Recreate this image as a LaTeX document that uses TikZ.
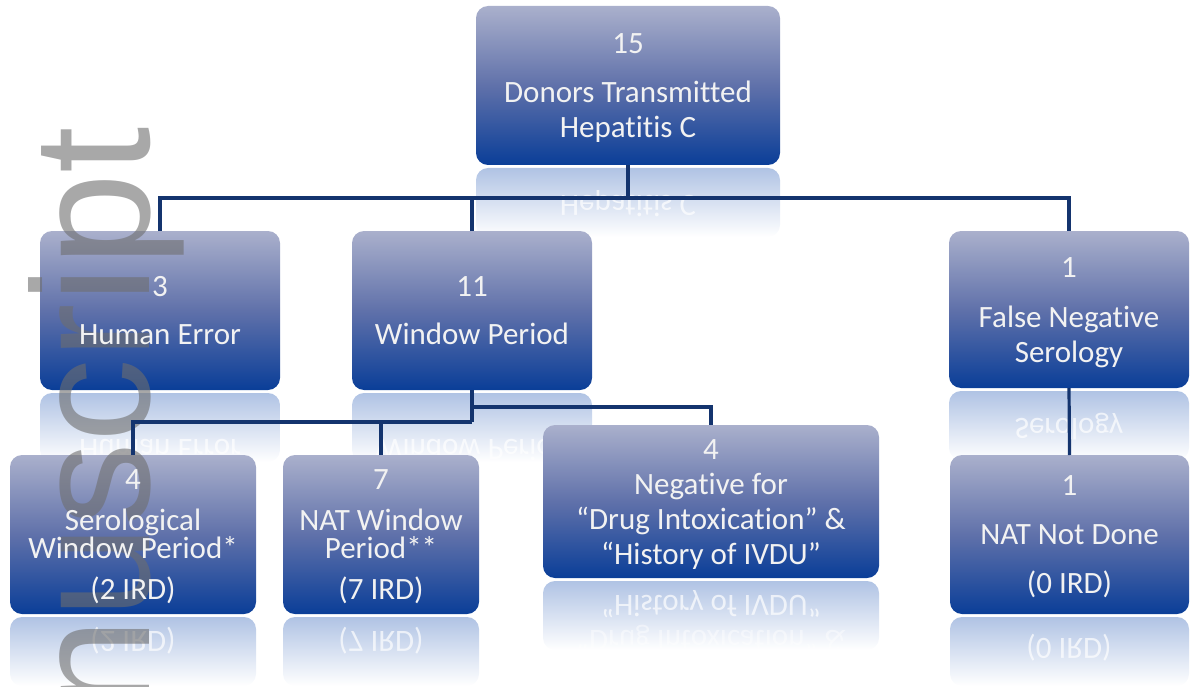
\documentclass[tikz,border=0pt]{standalone}
\usepackage{fontspec}
\setmainfont[Ligatures={NoCommon}]{Carlito}
\newfontfamily\wmfont{Liberation Sans}
\definecolor{boxtop}{RGB}{170,176,204}
\definecolor{boxmid}{RGB}{96,113,170}
\definecolor{boxbot}{RGB}{10,62,152}
\definecolor{refl}{RGB}{176,195,228}
\definecolor{conncol}{RGB}{20,52,110}
\definecolor{wmgray}{RGB}{110,110,110}
\definecolor{txt}{RGB}{242,242,242}
\pgfdeclarelayer{back}
\pgfdeclarelayer{wmark}
\pgfsetlayers{back,wmark,main}
\newcommand\bst{\rule[-7pt]{0pt}{34pt}}
\begin{document}
\begin{tikzpicture}[x=1pt,y=-1pt,
  cbox/.style={draw=none, anchor=north west, inner sep=0pt, outer sep=0pt, align=center, text=txt, font=\fontsize{31}{35}\selectfont},
  conn/.style={draw=conncol, line width=3.2pt},
  rtext/.style={text=white, anchor=base, inner sep=0pt, font=\fontsize{31}{35}\selectfont},
  wmstyle/.style={text=wmgray, opacity=0.6, inner sep=0pt, font=\wmfont\fontsize{167}{167}\selectfont},
  boxshade/.style={rounded corners=12pt, top color=boxtop, bottom color=boxbot, middle color=boxmid},
  reflshade/.style={rounded corners=12pt, top color=refl, bottom color=white}
]
\useasboundingbox (0,0) rectangle (1193,687);
\clip (0,0) rectangle (1193,687);

% boxes (text)
\node[cbox, minimum width=304pt, minimum height=159pt] (top) at (476,6) {\bst 15\\[14pt]Donors Transmitted\\Hepatitis C\bst};
\node[cbox, minimum width=240pt, minimum height=159pt] (he) at (40,231) {\bst 3\\[13pt]Human Error\bst};
\node[cbox, minimum width=240pt, minimum height=159pt] (wp) at (352,231) {\bst 11\\[13pt]Window Period\bst};
\node[cbox, minimum width=240pt, minimum height=157pt] (fn) at (949,231) {\bst 1\\[15pt]False Negative\\Serology\bst};
\node[cbox, minimum width=246pt, minimum height=159pt] (sw) at (10,455) {\bst 4\\[6pt]Serological\\[-7pt]Window Period*\\[6pt](2 IRD)\bst};
\node[cbox, minimum width=196pt, minimum height=159pt] (nw) at (283,455) {\bst 7\\[6pt]NAT Window\\[-7pt]Period**\\[6pt](7 IRD)\bst};
\node[cbox, minimum width=336pt, minimum height=153pt] (ng) at (543,425) {\bst 4\\Negative for\\“Drug Intoxication” \&\\“History of IVDU”\bst};
\node[cbox, minimum width=239pt, minimum height=159pt] (nd) at (950,455) {\bst 1\\[14pt]NAT Not Done\\[14pt](0 IRD)\bst};

% box fills and reflections
\begin{pgfonlayer}{back}
\foreach \n in {top,he,wp,fn,sw,nw,ng,nd}{
  \shade[reflshade] ([yshift=-3pt]\n.south west) rectangle ([yshift=-72pt]\n.south east);
}
\node[rtext, opacity=0.7] (rtop) at (628,195) {\scalebox{1}[-1]{Hepatitis C}};
\node[rtext, opacity=0.7] (rhe) at (160,439) {\scalebox{1}[-1]{Human Error}};
\node[rtext, opacity=0.7] (rwp) at (472,439) {\scalebox{1}[-1]{Window Period}};
\node[rtext, opacity=0.7] (rfn) at (1069,418) {\scalebox{1}[-1]{Serology}};
\foreach \n in {top,he,wp,fn}{
  \shade[boxshade] (\n.north west) rectangle (\n.south east);
}
\node[rtext, opacity=0.7] (rsw) at (133,631) {\scalebox{1}[-1]{(2 IRD)}};
\node[rtext, opacity=0.7] (rnw) at (381,631) {\scalebox{1}[-1]{(7 IRD)}};
\node[rtext, opacity=0.7] (rng) at (711,595) {\scalebox{1}[-1]{“History of IVDU”}};
\node[rtext, opacity=0.45] (rng2) at (711,630) {\scalebox{1}[-1]{“Drug Intoxication” \&}};
\node[rtext, opacity=0.7] (rnd) at (1069,638) {\scalebox{1}[-1]{(0 IRD)}};
\foreach \n in {sw,nw,ng,nd}{
  \shade[boxshade] (\n.north west) rectangle (\n.south east);
}
\end{pgfonlayer}

% watermark
\begin{pgfonlayer}{wmark}
\node[wmstyle, rotate=90, anchor=base west] (wm) at (149,712) {nuscript};
\end{pgfonlayer}

% connectors
\draw[conn] (top.south) -- ++(0,33) coordinate (j1);
\draw[conn] (he.north) |- (j1) -| (fn.north);
\draw[conn] (wp.north) -- (wp.north |- j1);
\draw[conn] (wp.south) -- ++(0,32) coordinate (j3);
\draw[conn] (wp.south |- 0,407) coordinate (j2) -| (ng.north);
\draw[conn] (sw.north) |- (j3);
\draw[conn] (nw.north) -- (nw.north |- j3);
\draw[conn] (fn.south) -- (nd.north);
\end{tikzpicture}
\end{document}
